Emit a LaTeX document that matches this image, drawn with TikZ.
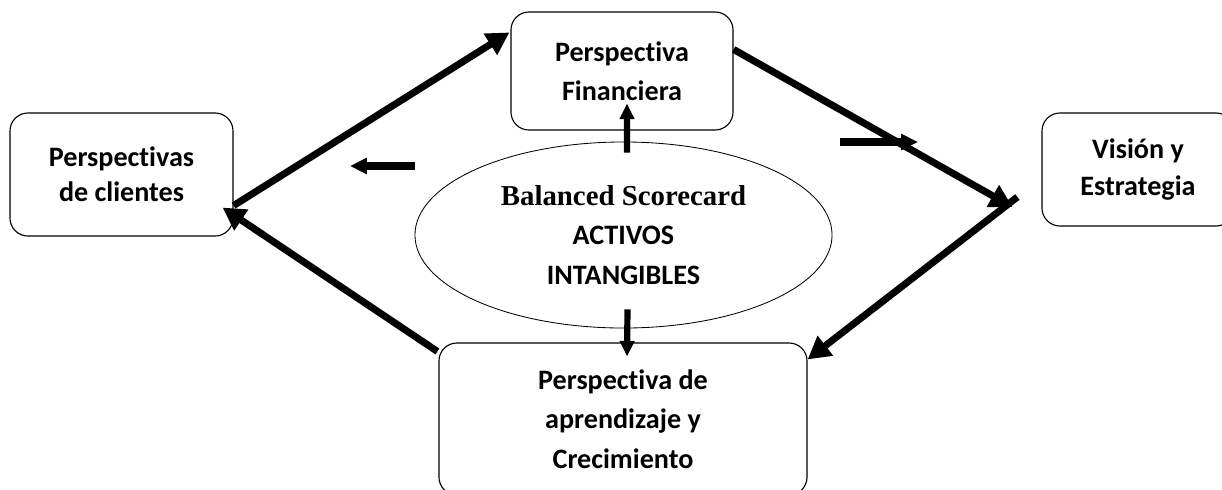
\documentclass[tikz,border=0pt]{standalone}
\usepackage{fontspec}
\setmainfont{Carlito}[Ligatures={TeX,NoCommon}]
\newfontfamily\timesfont{Liberation Serif}
\usetikzlibrary{shapes.geometric,arrows.meta}

\tikzset{
  persp/.style={draw, rounded corners=0.45cm, line width=0.8pt, align=center, inner sep=0pt,
    font=\fontsize{20}{28}\selectfont\bfseries},
  flow/.style={line width=5pt, -{Triangle[length=16pt,width=17pt]}},
  link/.style={line width=4.4pt, -{Triangle[length=11pt,width=10pt]}},
  stray/.style={line width=5pt, -{Triangle[length=12pt,width=11pt]}}
}

\begin{document}
\begin{tikzpicture}[x=0.025cm, y=-0.025cm]
  \useasboundingbox (0,0) rectangle (1222,489);
  \clip (0,0) rectangle (1222,489);

  % perspectivas
  \node[persp, minimum width=5.55cm, minimum height=2.95cm] (fin) at (622,71) {Perspectiva\\Financiera};
  \node[persp, minimum width=5.575cm, minimum height=3.075cm, font=\fontsize{20}{25}\selectfont\bfseries] (cli) at (121.5,174.5) {Perspectivas\\de clientes};
  \node[persp, minimum width=4.8cm, minimum height=2.825cm, font=\fontsize{20}{27}\selectfont\bfseries] (vis) at (1138,169.5) {Visión y\\Estrategia};
  \node[persp, minimum width=9.2cm, minimum height=3.8cm] (apr) at (623,419) {Perspectiva de\\aprendizaje y\\Crecimiento};

  % centro
  \node[draw, ellipse, line width=0.6pt, inner sep=0pt, minimum width=10.425cm, minimum height=4.65cm,
    align=center, font=\fontsize{20}{28}\selectfont\bfseries] (bsc) at (623.5,235)
    {{\timesfont\fontsize{20.5}{28}\selectfont\bfseries Balanced Scorecard}\\ACTIVOS\\INTANGIBLES};

  % ciclo
  \draw[flow] ([yshift=0.775cm]cli.south east) -- ([xshift=-0.025cm,yshift=-0.525cm]fin.north west);
  \draw[flow] ([yshift=-0.95cm]fin.north east) -- ([xshift=-0.725cm,yshift=-0.9375cm]vis.west);
  \draw[flow] ([xshift=-0.6cm,yshift=-0.6875cm]vis.west) -- ([yshift=-0.425cm]apr.north east);
  \draw[flow] ([xshift=-0.025cm,yshift=-0.225cm]apr.north west) -- ([xshift=-0.275cm,yshift=0.725cm]cli.south east);

  \draw[link] ([xshift=0.0875cm,yshift=-0.275cm]bsc.north) -- ([xshift=0.125cm,yshift=0.675cm]fin.south);
  \draw[link] ([xshift=0.1cm,yshift=0.475cm]bsc.south) -- ([xshift=0.1cm,yshift=-0.35cm]apr.north);

  % flechas sueltas
  \coordinate (la) at (415,166);
  \coordinate (lb) at (350,166);
  \coordinate (ra) at (840,142);
  \coordinate (rb) at (918,142);
  \draw[stray] (la) -- (lb);
  \draw[stray] (ra) -- (rb);
\end{tikzpicture}
\end{document}
